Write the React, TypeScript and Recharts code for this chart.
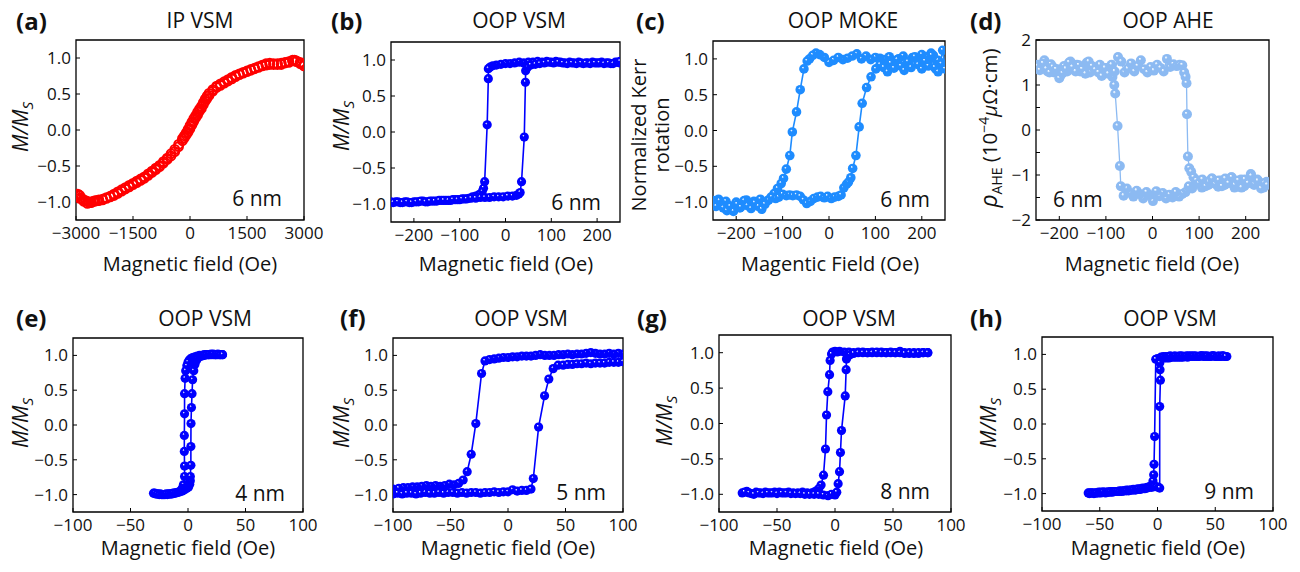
import React from 'react';
import { LineChart, Line, XAxis, YAxis, ReferenceArea } from 'recharts';

type P = [number, number];

// ---------- (a) IP VSM, 6 nm ----------
const aUp: P[] = [[-3000,-0.90],[-2950,-0.89],[-2900,-0.91],[-2850,-0.95],[-2800,-0.97],[-2750,-0.98],[-2700,-0.99],[-2650,-1.01],[-2600,-1.0],[-2550,-0.99],[-2500,-0.98],[-2450,-0.98],[-2400,-0.97],[-2300,-0.96],[-2200,-0.94],[-2100,-0.92],[-2000,-0.89],[-1900,-0.86],[-1800,-0.83],[-1700,-0.80],[-1600,-0.77],[-1500,-0.74],[-1400,-0.71],[-1300,-0.68],[-1200,-0.65],[-1100,-0.61],[-1000,-0.57],[-900,-0.53],[-800,-0.49],[-700,-0.44],[-600,-0.39],[-500,-0.33],[-400,-0.27],[-300,-0.20],[-200,-0.12],[-150,-0.08],[-100,-0.04],[-50,0.01],[0,0.06],[50,0.11],[100,0.16],[150,0.20],[200,0.25],[250,0.29],[300,0.33],[350,0.38],[400,0.43],[450,0.47],[500,0.51],[600,0.56],[700,0.61],[800,0.64],[900,0.67],[1000,0.70],[1100,0.73],[1200,0.76],[1300,0.78],[1400,0.80],[1500,0.82],[1600,0.84],[1700,0.86],[1800,0.88],[1900,0.90],[2000,0.92],[2100,0.93],[2200,0.92],[2300,0.92],[2400,0.93],[2500,0.94],[2600,0.95],[2700,0.97],[2750,0.97],[2800,0.96],[2900,0.94],[3000,0.91]];
const aDown: P[] = [[3000,0.89],[2900,0.92],[2800,0.95],[2700,0.96],[2600,0.94],[2500,0.93],[2400,0.91],[2300,0.91],[2200,0.91],[2100,0.91],[2000,0.90],[1900,0.89],[1800,0.87],[1700,0.85],[1600,0.83],[1500,0.81],[1400,0.79],[1300,0.77],[1200,0.74],[1100,0.71],[1000,0.68],[900,0.65],[800,0.62],[700,0.59],[600,0.54],[500,0.48],[450,0.44],[400,0.40],[350,0.35],[300,0.30],[250,0.26],[200,0.21],[150,0.17],[100,0.12],[50,0.07],[0,0.02],[-50,-0.03],[-100,-0.07],[-150,-0.11],[-200,-0.15],[-300,-0.23],[-400,-0.30],[-500,-0.36],[-600,-0.41],[-700,-0.46],[-800,-0.51],[-900,-0.55],[-1000,-0.59],[-1100,-0.63],[-1200,-0.67],[-1300,-0.70],[-1400,-0.73],[-1500,-0.76],[-1600,-0.79],[-1700,-0.82],[-1800,-0.85],[-1900,-0.88],[-2000,-0.91],[-2100,-0.93],[-2200,-0.95],[-2300,-0.97],[-2400,-0.98],[-2500,-0.99],[-2600,-1.01],[-2700,-1.02],[-2800,-0.99],[-2900,-0.95],[-3000,-0.93]];

// ---------- (b) OOP VSM, 6 nm ----------
const bDown: P[] = [[250,0.96],[240,0.97],[230,0.95],[220,0.96],[210,0.97],[200,0.96],[190,0.97],[180,0.96],[170,0.95],[160,0.97],[150,0.96],[140,0.97],[130,0.96],[120,0.97],[110,0.98],[100,0.97],[90,0.98],[80,0.97],[70,0.98],[60,0.97],[50,0.97],[40,0.96],[30,0.97],[20,0.96],[10,0.95],[0,0.95],[-10,0.94],[-20,0.93],[-28,0.92],[-34,0.90],[-37.5,0.88],[-37.5,0.74],[-40,0.10],[-45.5,-0.69],[-48,-0.78],[-51,-0.83],[-58,-0.87],[-65,-0.89],[-72,-0.90],[-80,-0.92],[-90,-0.93],[-100,-0.94],[-110,-0.94],[-120,-0.95],[-130,-0.95],[-140,-0.95],[-150,-0.96],[-160,-0.96],[-170,-0.97],[-180,-0.96],[-190,-0.97],[-200,-0.97],[-210,-0.98],[-220,-0.97],[-230,-0.98],[-240,-0.97],[-250,-0.97]];
const bUp: P[] = [[-245,-0.98],[-235,-0.97],[-225,-0.98],[-215,-0.97],[-205,-0.98],[-195,-0.97],[-185,-0.96],[-175,-0.97],[-165,-0.96],[-155,-0.96],[-145,-0.95],[-135,-0.95],[-125,-0.95],[-115,-0.94],[-105,-0.94],[-95,-0.93],[-85,-0.93],[-75,-0.92],[-65,-0.92],[-55,-0.91],[-45,-0.91],[-35,-0.91],[-25,-0.90],[-15,-0.90],[-5,-0.90],[5,-0.89],[15,-0.89],[24,-0.88],[29,-0.86],[32,-0.84],[35,-0.69],[41,-0.07],[43.5,0.69],[44,0.85],[48,0.90],[55,0.93],[65,0.94],[75,0.95],[85,0.96],[95,0.97],[105,0.96],[115,0.97],[125,0.96],[135,0.95],[145,0.96],[155,0.95],[165,0.96],[175,0.96],[185,0.95],[195,0.96],[205,0.96],[215,0.95],[225,0.96],[235,0.95],[245,0.97],[250,0.98]];

// ---------- (c) OOP MOKE, 6 nm ----------
const cDown: P[] = [[250,0.88],[245,1.12],[240,0.95],[235,0.98],[230,0.86],[225,1.05],[220,1.08],[215,0.98],[210,1.03],[205,0.95],[200,1.06],[190,0.99],[180,1.02],[170,0.96],[160,1.04],[150,1.00],[140,0.97],[130,1.03],[120,0.99],[110,1.01],[100,1.02],[90,0.99],[80,1.04],[70,1.00],[60,1.07],[50,1.04],[40,1.01],[30,0.99],[20,1.02],[10,0.98],[0,0.95],[-10,1.02],[-20,1.06],[-28,1.08],[-35,1.05],[-42,1.00],[-47,0.97],[-54,0.86],[-62,0.57],[-70,0.26],[-79,-0.02],[-84.5,-0.35],[-92,-0.54],[-98,-0.67],[-103,-0.74],[-111,-0.81],[-118,-0.88],[-125,-0.93],[-132,-0.98],[-140,-1.02],[-148,-0.96],[-155,-1.05],[-162,-0.99],[-170,-1.06],[-178,-0.97],[-185,-1.03],[-192,-1.08],[-200,-1.00],[-208,-1.10],[-215,-1.05],[-222,-0.99],[-230,-1.04],[-238,-0.96],[-245,-1.02],[-250,-0.98]];
const cUp: P[] = [[-250,-1.02],[-243,-1.06],[-236,-0.98],[-228,-1.08],[-220,-1.12],[-213,-1.06],[-206,-1.13],[-198,-1.03],[-190,-1.07],[-183,-0.98],[-176,-1.05],[-168,-1.09],[-160,-1.01],[-152,-1.06],[-145,-1.10],[-138,-1.03],[-130,-0.97],[-123,-0.93],[-115,-0.95],[-108,-0.93],[-100,-0.89],[-92,-0.91],[-85,-0.90],[-78,-0.91],[-70,-0.90],[-62,-0.92],[-55,-0.97],[-48,-1.02],[-40,-0.99],[-33,-0.95],[-25,-0.93],[-18,-0.92],[-10,-0.94],[-3,-0.92],[5,-0.95],[12,-0.93],[20,-0.92],[26,-0.90],[32,-0.80],[38,-0.75],[42,-0.72],[47,-0.66],[51,-0.53],[58,-0.35],[65,0.05],[71.5,0.38],[81,0.60],[90.6,0.75],[101,0.86],[110,0.92],[118,0.88],[126,0.82],[133,0.94],[140,0.87],[147,0.99],[155,0.90],[162,0.84],[170,0.96],[177,0.88],[185,1.03],[192,0.92],[200,0.86],[207,0.97],[214,0.90],[221,1.05],[228,0.88],[235,0.82],[242,0.93],[250,0.86]];

// ---------- (d) OOP AHE, 6 nm ----------
const dDown: P[] = [[245,-1.15],[238,-1.28],[232,-1.20],[225,-1.10],[218,-1.22],[211,-0.98],[204,-1.18],[197,-1.25],[190,-1.10],[183,-1.20],[176,-1.28],[169,-1.05],[162,-1.17],[155,-1.22],[148,-1.12],[141,-1.26],[134,-1.18],[127,-1.08],[120,-1.22],[113,-1.15],[106,-1.28],[99,-1.12],[92,-1.20],[85,-1.30],[78,-1.25],[71,-1.38],[64,-1.42],[57,-1.48],[50,-1.38],[43,-1.50],[36,-1.44],[29,-1.52],[22,-1.40],[15,-1.47],[8,-1.36],[1,-1.58],[-6,-1.45],[-13,-1.38],[-20,-1.52],[-27,-1.42],[-34,-1.35],[-41,-1.48],[-48,-1.40],[-55,-1.30],[-62,-1.46],[-68,-1.25],[-70,-0.80],[-75,0.09],[-80,0.81],[-82,1.00],[-86,1.18],[-92,1.30],[-99,1.38],[-106,1.25],[-113,1.45],[-120,1.32],[-127,1.40],[-134,1.28],[-141,1.50],[-148,1.36],[-155,1.30],[-162,1.45],[-169,1.38],[-176,1.52],[-183,1.30],[-190,1.42],[-197,1.22],[-204,1.35],[-211,1.28],[-218,1.46],[-225,1.30],[-232,1.55],[-239,1.38],[-246,1.45]];
const dUp: P[] = [[-248,1.42],[-242,1.33],[-235,1.48],[-228,1.36],[-221,1.28],[-214,1.40],[-207,1.35],[-200,1.15],[-193,1.26],[-186,1.36],[-179,1.50],[-172,1.40],[-165,1.30],[-158,1.44],[-151,1.35],[-144,1.25],[-137,1.52],[-130,1.42],[-123,1.34],[-116,1.28],[-109,1.20],[-102,1.38],[-95,1.25],[-88,1.45],[-81,1.30],[-74,1.62],[-67,1.52],[-60,1.28],[-53,1.36],[-46,1.48],[-39,1.30],[-32,1.42],[-25,1.55],[-18,1.35],[-11,1.28],[-4,1.40],[3,1.32],[10,1.45],[17,1.38],[24,1.30],[31,1.58],[38,1.40],[45,1.46],[52,1.42],[58,1.45],[64,1.44],[68,1.28],[71,1.18],[73,1.04],[74,0.35],[76,-0.59],[79,-0.85],[83,-0.93],[88,-1.05],[94,-1.12],[100,-1.18],[107,-1.10],[114,-1.25],[121,-1.15],[128,-1.08],[135,-1.20],[142,-1.12],[149,-1.25],[156,-1.08],[163,-1.18],[170,-1.05],[177,-1.22],[184,-1.12],[191,-1.28],[198,-1.10],[205,-1.18],[212,-1.02],[219,-1.20],[226,-1.13],[233,-1.30],[240,-1.18],[246,-1.22]];

// ---------- (e) 4 nm ----------
const eDown: P[] = [[30,1.01],[28,1.01],[26,1.02],[24,1.01],[22,1.01],[20,1.02],[18,1.01],[16,1.01],[14,1.01],[12,1.0],[10,1.0],[8,0.99],[6,0.98],[4,0.97],[2,0.95],[1,0.93],[0,0.9],[-1,0.85],[-2,0.78],[-2.5,0.67],[-3,0.45],[-3,0.16],[-3.2,-0.15],[-3.2,-0.38],[-3,-0.59],[-3,-0.74],[-4,-0.86],[-5,-0.91],[-6,-0.94],[-8,-0.96],[-10,-0.97],[-12,-0.98],[-14,-0.99],[-16,-0.99],[-18,-1.0],[-20,-1.0],[-22,-1.0],[-24,-0.99],[-26,-0.99],[-28,-0.99],[-30,-0.98]];
const eUp: P[] = [[-29,-0.98],[-27,-0.99],[-25,-1.0],[-23,-1.0],[-21,-1.0],[-19,-0.99],[-17,-0.99],[-15,-0.99],[-13,-0.98],[-11,-0.98],[-9,-0.97],[-7,-0.96],[-5,-0.95],[-3,-0.93],[-1,-0.91],[0.5,-0.89],[1.5,-0.85],[2,-0.80],[2,-0.74],[2.5,-0.58],[2.5,-0.31],[2.6,0.02],[3,0.25],[3.5,0.45],[4,0.65],[5,0.78],[6,0.87],[7,0.92],[8,0.95],[10,0.98],[12,0.99],[14,1.0],[16,1.01],[18,1.01],[20,1.01],[22,1.02],[24,1.01],[26,1.01],[28,1.01],[30,1.01]];

// ---------- (f) 5 nm ----------
const fDown: P[] = [[100,1.02],[96,1.03],[92,1.02],[88,1.03],[84,1.02],[80,1.02],[76,1.03],[72,1.04],[68,1.03],[64,1.02],[60,1.02],[56,1.01],[52,1.02],[48,1.01],[44,1.01],[40,1.0],[36,1.0],[32,1.0],[28,1.01],[24,1.0],[20,0.99],[16,0.99],[12,0.99],[8,0.98],[4,0.98],[0,0.97],[-4,0.97],[-8,0.96],[-12,0.95],[-16,0.94],[-20,0.92],[-23,0.74],[-28,0.02],[-32,-0.42],[-35.5,-0.67],[-39,-0.79],[-43,-0.84],[-47,-0.86],[-51,-0.85],[-55,-0.87],[-59,-0.88],[-63,-0.87],[-67,-0.88],[-71,-0.87],[-75,-0.88],[-79,-0.89],[-83,-0.89],[-87,-0.90],[-91,-0.90],[-95,-0.91],[-100,-0.92]];
const fUp: P[] = [[-100,-0.99],[-96,-0.98],[-92,-0.99],[-88,-0.98],[-84,-0.98],[-80,-0.99],[-76,-0.98],[-72,-0.97],[-68,-0.98],[-64,-0.98],[-60,-0.97],[-56,-0.98],[-52,-0.97],[-48,-0.97],[-44,-0.98],[-40,-0.97],[-36,-0.98],[-32,-0.97],[-28,-0.97],[-24,-0.98],[-20,-0.97],[-16,-0.97],[-12,-0.96],[-8,-0.97],[-4,-0.96],[0,-0.96],[4,-0.93],[8,-0.95],[12,-0.94],[16,-0.94],[20,-0.92],[22,-0.77],[26.6,-0.03],[31.8,0.42],[35.5,0.66],[39.3,0.81],[43.6,0.86],[48,0.86],[52,0.87],[56,0.87],[60,0.88],[64,0.88],[68,0.89],[72,0.88],[76,0.89],[80,0.89],[84,0.89],[88,0.90],[92,0.90],[96,0.90],[100,0.91]];

// ---------- (g) 8 nm ----------
const gDown: P[] = [[80,1.0],[76,1.0],[72,0.99],[68,1.0],[64,0.99],[60,1.0],[56,1.02],[52,1.0],[48,1.01],[44,1.0],[40,1.01],[36,1.0],[32,1.01],[28,1.0],[24,1.01],[20,1.01],[16,1.0],[12,1.01],[8,1.01],[4,1.02],[2,1.01],[0,1.02],[-2,1.01],[-3,0.98],[-4.2,0.89],[-4.7,0.69],[-6.2,0.45],[-7.3,0.12],[-8.2,-0.36],[-9.9,-0.73],[-12,-0.87],[-14,-0.92],[-16,-0.95],[-18,-0.97],[-20,-0.98],[-24,-0.98],[-28,-0.97],[-32,-0.98],[-36,-0.98],[-40,-0.97],[-44,-0.98],[-48,-0.97],[-52,-0.97],[-56,-0.98],[-60,-0.97],[-64,-0.98],[-68,-0.97],[-72,-0.99],[-76,-0.96],[-80,-0.98]];
const gUp: P[] = [[-78,-0.97],[-74,-0.98],[-70,-1.0],[-66,-0.98],[-62,-0.99],[-58,-0.98],[-54,-0.98],[-50,-0.99],[-46,-0.98],[-42,-0.98],[-38,-0.99],[-34,-0.99],[-30,-0.99],[-26,-1.0],[-22,-1.0],[-18,-1.0],[-14,-1.0],[-10,-1.01],[-6,-1.02],[-3,-1.0],[0,-1.01],[1.5,-0.97],[2.7,-0.85],[3.9,-0.68],[4.7,-0.41],[5.6,-0.10],[8.8,0.39],[9.6,0.76],[9.9,0.91],[11,0.95],[13,0.97],[16,0.99],[20,1.0],[24,1.0],[28,1.0],[32,1.0],[36,1.01],[40,1.0],[44,1.0],[48,1.0],[52,1.0],[56,1.0],[60,0.99],[64,1.0],[68,0.99],[72,1.0],[76,1.0],[80,1.0]];

// ---------- (h) 9 nm ----------
const hDown: P[] = [[60,0.97],[58,0.97],[56,0.98],[54,0.97],[52,0.97],[50,0.97],[48,0.98],[46,0.97],[44,0.97],[42,0.97],[40,0.97],[38,0.98],[36,0.97],[34,0.97],[32,0.97],[30,0.97],[28,0.97],[26,0.96],[24,0.97],[22,0.96],[20,0.96],[18,0.96],[16,0.96],[14,0.96],[12,0.96],[10,0.95],[8,0.95],[6,0.95],[4,0.95],[2,0.94],[0,0.94],[-1.5,0.93],[-2.5,-0.18],[-3,-0.58],[-3.3,-0.73],[-3.9,-0.82],[-5,-0.88],[-7,-0.90],[-9,-0.91],[-11,-0.92],[-13,-0.92],[-15,-0.93],[-17,-0.93],[-19,-0.94],[-21,-0.94],[-23,-0.95],[-25,-0.95],[-27,-0.95],[-29,-0.96],[-31,-0.96],[-33,-0.96],[-35,-0.97],[-37,-0.97],[-39,-0.97],[-41,-0.97],[-43,-0.98],[-45,-0.98],[-47,-0.98],[-49,-0.98],[-51,-0.98],[-53,-0.99],[-55,-0.99],[-57,-0.99],[-59,-0.99],[-60,-0.99]];
const hUp: P[] = [[-59,-1.0],[-57,-0.99],[-55,-1.0],[-53,-0.99],[-51,-0.99],[-49,-0.99],[-47,-0.98],[-45,-0.99],[-43,-0.98],[-41,-0.98],[-39,-0.98],[-37,-0.97],[-35,-0.97],[-33,-0.97],[-31,-0.97],[-29,-0.96],[-27,-0.96],[-25,-0.96],[-23,-0.95],[-21,-0.95],[-19,-0.95],[-17,-0.94],[-15,-0.94],[-13,-0.93],[-11,-0.93],[-9,-0.92],[-7,-0.91],[-5,-0.91],[-3,-0.90],[-1,-0.90],[1,-0.91],[1.9,-0.92],[1.9,0.25],[2.5,0.63],[2.2,0.78],[2,0.88],[3,0.96],[5,0.97],[7,0.97],[9,0.97],[11,0.98],[13,0.97],[15,0.98],[17,0.97],[19,0.98],[21,0.98],[23,0.97],[25,0.98],[27,0.98],[29,0.98],[31,0.98],[33,0.98],[35,0.97],[37,0.98],[39,0.98],[41,0.98],[43,0.98],[45,0.97],[47,0.98],[49,0.98],[51,0.97],[53,0.98],[55,0.97],[57,0.98],[59,0.97]];

// ---------- ticks ----------
const ticksA = [-3000, -1500, 0, 1500, 3000];
const ticksB = [-200, -100, 0, 100, 200];
const ticksE = [-100, -50, 0, 50, 100];
const ticksM = [-1, -0.5, 0, 0.5, 1];
const ticksRho = [-2, -1.5, -1, -0.5, 0, 0.5, 1, 1.5, 2];

const FONT = "'Open Sans', 'Noto Sans', sans-serif";
const MINUS = '\u2212';
const fmt0 = (v: number) => (v < 0 ? MINUS : '') + String(Math.abs(v));
const fmt1 = (v: number) => (v < 0 ? MINUS : '') + Math.abs(v).toFixed(1);
const fmtInt = (v: number) => (Number.isInteger(v) ? fmt0(v) : '');

const BLUE = '#0000ff';
const DODGER = '#1e8cff';
const LIGHT = '#8cbaf2';
const RED = '#ff0000';

const toPts = (d: P[]) => d.map(([h, m]) => ({ h, m }));

type Series = { data: P[]; color: string; grad?: string; r: number; lw: number; open?: boolean };
type Panel = {
  box: { l: number; t: number; w: number; h: number };
  xDomain: [number, number]; xTicks: number[];
  yDomain: [number, number]; yTicks: number[]; yFmt: (v: number) => string;
  series: Series[];
};

const panels: Panel[] = [
  { box: { l: 76, t: 40, w: 228, h: 180 }, xDomain: [-3000, 3000], xTicks: ticksA, yDomain: [-1.25, 1.25], yTicks: ticksM, yFmt: fmt1,
    series: [{ data: aUp, color: RED, r: 4.4, lw: 0, open: true }, { data: aDown, color: RED, r: 4.4, lw: 0, open: true }] },
  { box: { l: 391, t: 42, w: 229, h: 180 }, xDomain: [-250, 250], xTicks: ticksB, yDomain: [-1.25, 1.25], yTicks: ticksM, yFmt: fmt1,
    series: [{ data: bDown, color: BLUE, grad: 'gBlue', r: 4.6, lw: 1.6 }, { data: bUp, color: BLUE, grad: 'gBlue', r: 4.6, lw: 1.6 }] },
  { box: { l: 713, t: 41, w: 232, h: 179 }, xDomain: [-250, 250], xTicks: ticksB, yDomain: [-1.25, 1.25], yTicks: ticksM, yFmt: fmt1,
    series: [{ data: cDown, color: DODGER, grad: 'gDodger', r: 4.8, lw: 1.6 }, { data: cUp, color: DODGER, grad: 'gDodger', r: 4.8, lw: 1.6 }] },
  { box: { l: 1036, t: 40, w: 233, h: 180 }, xDomain: [-250, 250], xTicks: ticksB, yDomain: [-2, 2], yTicks: ticksRho, yFmt: fmtInt,
    series: [{ data: dDown, color: LIGHT, grad: 'gLight', r: 5, lw: 1.3 }, { data: dUp, color: LIGHT, grad: 'gLight', r: 5, lw: 1.3 }] },
  { box: { l: 73, t: 338, w: 230, h: 174 }, xDomain: [-100, 100], xTicks: ticksE, yDomain: [-1.25, 1.25], yTicks: ticksM, yFmt: fmt1,
    series: [{ data: eDown, color: BLUE, grad: 'gBlue', r: 4.6, lw: 1.6 }, { data: eUp, color: BLUE, grad: 'gBlue', r: 4.6, lw: 1.6 }] },
  { box: { l: 393, t: 338, w: 230, h: 174 }, xDomain: [-100, 100], xTicks: ticksE, yDomain: [-1.25, 1.25], yTicks: ticksM, yFmt: fmt1,
    series: [{ data: fDown, color: BLUE, grad: 'gBlue', r: 4.6, lw: 1.6 }, { data: fUp, color: BLUE, grad: 'gBlue', r: 4.6, lw: 1.6 }] },
  { box: { l: 719, t: 335, w: 232, h: 177 }, xDomain: [-100, 100], xTicks: ticksE, yDomain: [-1.25, 1.25], yTicks: ticksM, yFmt: fmt1,
    series: [{ data: gDown, color: BLUE, grad: 'gBlue', r: 4.6, lw: 1.6 }, { data: gUp, color: BLUE, grad: 'gBlue', r: 4.6, lw: 1.6 }] },
  { box: { l: 1042, t: 337, w: 231, h: 174 }, xDomain: [-100, 100], xTicks: ticksE, yDomain: [-1.25, 1.25], yTicks: ticksM, yFmt: fmt1,
    series: [{ data: hDown, color: BLUE, grad: 'gBlue', r: 4.6, lw: 1.6 }, { data: hUp, color: BLUE, grad: 'gBlue', r: 4.6, lw: 1.6 }] },
];

const makeDot = (s: Series) => (p: any) => {
  const { cx, cy, index } = p;
  if (cx == null || cy == null || isNaN(cx) || isNaN(cy)) return <g key={`e${index}`} />;
  if (s.open) return <circle key={`d${index}`} cx={cx} cy={cy} r={s.r} fill="none" stroke={s.color} strokeWidth={2} />;
  return <circle key={`d${index}`} cx={cx} cy={cy} r={s.r} fill={`url(#${s.grad})`} />;
};

const ML = 60, MT = 18, MR = 34, MB = 40, YW = 50, XH = 30;

function PanelChart({ p }: { p: Panel }) {
  const { box } = p;
  const tickStyle = { fontSize: 17, fill: '#111', fontFamily: FONT };
  return (
    <div style={{ position: 'absolute', left: box.l - ML, top: box.t - MT }}>
      <LineChart width={box.w + ML + MR} height={box.h + MT + MB} margin={{ top: MT, right: MR, bottom: MB - XH, left: ML - YW }}>
        <XAxis dataKey="h" type="number" domain={p.xDomain} ticks={p.xTicks} interval={0} allowDataOverflow
          tickFormatter={fmt0} height={XH} axisLine={false}
          tickSize={-4} tickMargin={11} tickLine={{ stroke: '#000', strokeWidth: 1 }} tick={tickStyle} />
        <YAxis dataKey="m" type="number" domain={p.yDomain} ticks={p.yTicks} interval={0} allowDataOverflow
          tickFormatter={p.yFmt} width={YW} axisLine={false}
          tickSize={-4} tickMargin={9} tickLine={{ stroke: '#000', strokeWidth: 1 }} tick={tickStyle} />
        <ReferenceArea x1={p.xDomain[0]} x2={p.xDomain[1]} y1={p.yDomain[0]} y2={p.yDomain[1]}
          fill="none" stroke="#000" strokeWidth={1.3} ifOverflow="visible" />
        {p.series.map((s, i) => (
          <Line key={i} data={toPts(s.data)} dataKey="m" type="linear" isAnimationActive={false}
            stroke={s.lw > 0 ? s.color : 'none'} strokeWidth={s.lw} dot={makeDot(s)} activeDot={false} />
        ))}
      </LineChart>
    </div>
  );
}

const letters = [
  { t: '(a)', x: 16, y: 30 }, { t: '(b)', x: 331, y: 30 }, { t: '(c)', x: 636, y: 30 }, { t: '(d)', x: 970, y: 30 },
  { t: '(e)', x: 16, y: 327 }, { t: '(f)', x: 340, y: 327 }, { t: '(g)', x: 637, y: 327 }, { t: '(h)', x: 970, y: 327 },
];
const titles = [
  { t: 'IP VSM', x: 200, y: 28 }, { t: 'OOP VSM', x: 519, y: 28 }, { t: 'OOP MOKE', x: 843, y: 28 }, { t: 'OOP AHE', x: 1168, y: 28 },
  { t: 'OOP VSM', x: 205, y: 326 }, { t: 'OOP VSM', x: 521, y: 326 }, { t: 'OOP VSM', x: 849, y: 326 }, { t: 'OOP VSM', x: 1170, y: 326 },
];
const notes = [
  { t: '6 nm', x: 282, y: 206, a: 'end' }, { t: '6 nm', x: 601, y: 210, a: 'end' }, { t: '6 nm', x: 930, y: 207, a: 'end' }, { t: '6 nm', x: 1053, y: 207, a: 'start' },
  { t: '4 nm', x: 285, y: 501, a: 'end' }, { t: '5 nm', x: 606, y: 500, a: 'end' }, { t: '8 nm', x: 930, y: 499, a: 'end' }, { t: '9 nm', x: 1254, y: 499, a: 'end' },
];
const xTitles = [
  { t: 'Magnetic field (Oe)', x: 190, y: 271 }, { t: 'Magnetic field (Oe)', x: 506, y: 271 }, { t: 'Magentic Field (Oe)', x: 830, y: 271 }, { t: 'Magnetic field (Oe)', x: 1152, y: 271 },
  { t: 'Magnetic field (Oe)', x: 188, y: 555 }, { t: 'Magnetic field (Oe)', x: 508, y: 555 }, { t: 'Magnetic field (Oe)', x: 836, y: 555 }, { t: 'Magnetic field (Oe)', x: 1158, y: 555 },
];
const mLabelPos = [
  { x: 28, y: 127 }, { x: 349, y: 126 }, { x: 28, y: 423 }, { x: 349, y: 423 }, { x: 672, y: 421 }, { x: 996, y: 423 },
];

function MLabel({ x, y }: { x: number; y: number }) {
  return (
    <text x={x} y={y} transform={`rotate(-90 ${x} ${y})`} textAnchor="middle" fontSize={21} fontFamily={FONT} fill="#111">
      <tspan fontStyle="italic">M</tspan><tspan fontStyle="italic">/</tspan><tspan fontStyle="italic">M</tspan>
      <tspan fontStyle="italic" fontSize={15} dy={5}>S</tspan>
    </text>
  );
}

export default function App() {
  return (
    <div style={{ position: 'absolute', left: 0, top: 0, width: 1300, height: 572, background: '#fff', fontFamily: FONT }}>
      <svg width={0} height={0} style={{ position: 'absolute' }}>
        <defs>
          <radialGradient id="gBlue" cx="50%" cy="50%" r="50%" fx="38%" fy="32%">
            <stop offset="0%" stopColor="#ffffff" />
            <stop offset="10%" stopColor="#b0b0ff" />
            <stop offset="26%" stopColor={BLUE} />
            <stop offset="100%" stopColor={BLUE} />
          </radialGradient>
          <radialGradient id="gDodger" cx="50%" cy="50%" r="50%" fx="38%" fy="32%">
            <stop offset="0%" stopColor="#ffffff" />
            <stop offset="10%" stopColor="#c4e0ff" />
            <stop offset="26%" stopColor={DODGER} />
            <stop offset="100%" stopColor={DODGER} />
          </radialGradient>
          <radialGradient id="gLight" cx="50%" cy="50%" r="50%" fx="38%" fy="32%">
            <stop offset="0%" stopColor="#ffffff" />
            <stop offset="12%" stopColor="#e0eefd" />
            <stop offset="30%" stopColor={LIGHT} />
            <stop offset="100%" stopColor={LIGHT} />
          </radialGradient>
        </defs>
      </svg>
      {panels.map((p, i) => <PanelChart key={i} p={p} />)}
      <svg width={1300} height={572} style={{ position: 'absolute', left: 0, top: 0, pointerEvents: 'none' }}>
        {letters.map((l, i) => (
          <text key={`l${i}`} x={l.x} y={l.y} fontSize={24} fontWeight="bold" fontFamily={FONT} fill="#111">{l.t}</text>
        ))}
        {titles.map((l, i) => (
          <text key={`t${i}`} x={l.x} y={l.y} fontSize={21} textAnchor="middle" fontFamily={FONT} fill="#111">{l.t}</text>
        ))}
        {notes.map((l, i) => (
          <text key={`n${i}`} x={l.x} y={l.y} fontSize={21} textAnchor={l.a as any} fontFamily={FONT} fill="#111">{l.t}</text>
        ))}
        {xTitles.map((l, i) => (
          <text key={`x${i}`} x={l.x} y={l.y} fontSize={20} textAnchor="middle" fontFamily={FONT} fill="#111">{l.t}</text>
        ))}
        {mLabelPos.map((m, i) => <MLabel key={`m${i}`} x={m.x} y={m.y} />)}
        <text x={646} y={135} transform="rotate(-90 646 135)" textAnchor="middle" fontSize={20} fontFamily={FONT} fill="#111">Normalized Kerr</text>
        <text x={669} y={135} transform="rotate(-90 669 135)" textAnchor="middle" fontSize={20} fontFamily={FONT} fill="#111">rotation</text>
        <text x={997} y={128} transform="rotate(-90 997 128)" textAnchor="middle" fontSize={20.5} fontFamily={FONT} fill="#111">
          <tspan fontStyle="italic" fontSize={23}>ρ</tspan>
          <tspan fontSize={14} dy={5}>AHE</tspan>
          <tspan dy={-5}> (10</tspan>
          <tspan fontSize={14} dy={-8}>{MINUS}4</tspan>
          <tspan fontStyle="italic" dy={8}>μ</tspan>
          <tspan>Ω·cm)</tspan>
        </text>
      </svg>
    </div>
  );
}
